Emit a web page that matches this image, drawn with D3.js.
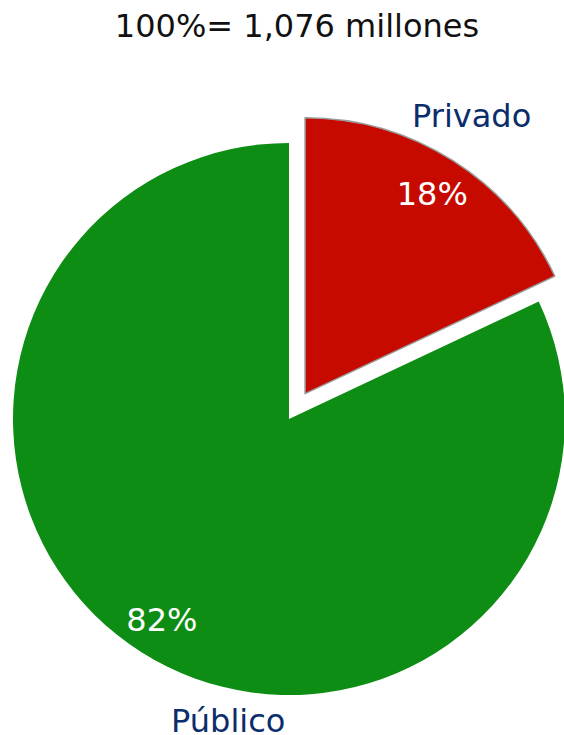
<!DOCTYPE html>
<html><head><meta charset="utf-8">
<script src="https://cdn.jsdelivr.net/npm/d3@7"></script>
<style>body{margin:0;background:#fff}svg{display:block}</style>
</head><body>
<script>
const categories = ["Privado", "Público"];
const values = [18, 82];
const pctLabels = ["18%", "82%"];
const title = "100%= 1,076 millones";

const W = 564, H = 735;
const cx = 289, cy = 419, R = 276;
const colors = ["#C60A00", "#0E8D14"];
const svg = d3.select("body").append("svg").attr("width", W).attr("height", H);
const font = "'DejaVu Sans', Verdana, sans-serif";
const fs = 32;

svg.append("text").attr("x", 297).attr("y", 37).attr("text-anchor", "middle")
  .attr("font-family", font).attr("font-size", fs).attr("fill", "#111").text(title);

const pie = d3.pie().sort(null).value(d => d)(values);
const arc = d3.arc().innerRadius(0).outerRadius(R);
const explode = [30, 0];
// outside label placement (angle offset in degrees, radius factor)
const outside = [{da: -1.5, rf: 1.175}, {da: -21, rf: 1.115}];
const inside = 0.86;

const g = svg.append("g").attr("transform", `translate(${cx},${cy})`);
pie.forEach((d, i) => {
  const mid = (d.startAngle + d.endAngle) / 2;
  const ox = Math.sin(mid) * explode[i], oy = -Math.cos(mid) * explode[i];
  const sg = g.append("g").attr("transform", `translate(${ox},${oy})`);
  sg.append("path").attr("d", arc(d)).attr("fill", colors[i])
    .attr("stroke", i === 0 ? "#9a9a9a" : "none").attr("stroke-width", i === 0 ? 1.5 : 0)
    .attr("stroke-linejoin", "round");
  sg.append("text").attr("x", Math.sin(mid) * R * inside).attr("y", -Math.cos(mid) * R * inside)
    .attr("dy", "0.36em").attr("text-anchor", "middle").attr("font-family", font)
    .attr("font-size", fs).attr("fill", "#fff").text(pctLabels[i]);
  const a2 = mid + outside[i].da * Math.PI / 180;
  sg.append("text").attr("x", Math.sin(a2) * R * outside[i].rf).attr("y", -Math.cos(a2) * R * outside[i].rf)
    .attr("dy", "0.36em").attr("text-anchor", "middle").attr("font-family", font)
    .attr("font-size", fs).attr("fill", "#0B2D6B").text(categories[i]);
});
</script>
</body></html>
